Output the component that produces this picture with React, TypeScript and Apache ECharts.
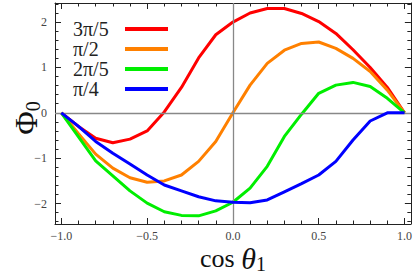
import React, { useEffect, useRef } from "react";
import * as echarts from "echarts";

const xs = [-1.0, -0.9, -0.8, -0.7, -0.6, -0.5, -0.4, -0.3, -0.2, -0.1, 0.0, 0.1, 0.2, 0.3, 0.4, 0.5, 0.6, 0.7, 0.8, 0.9, 1.0];
const seriesNames = ["3π/5", "π/2", "2π/5", "π/4"];
const red = [0, -0.3, -0.56, -0.66, -0.58, -0.4, 0.02, 0.56, 1.21, 1.72, 2.0, 2.2, 2.3, 2.3, 2.19, 2.01, 1.75, 1.39, 1.0, 0.56, 0];
const orange = [0, -0.46, -0.91, -1.22, -1.43, -1.53, -1.5, -1.37, -1.07, -0.63, 0, 0.61, 1.09, 1.38, 1.53, 1.56, 1.42, 1.2, 0.91, 0.5, 0];
const green = [0, -0.53, -1.06, -1.39, -1.72, -1.99, -2.18, -2.26, -2.27, -2.16, -1.97, -1.66, -1.18, -0.52, -0.03, 0.43, 0.61, 0.67, 0.58, 0.32, 0];
const blue = [0, -0.3, -0.63, -0.89, -1.13, -1.37, -1.59, -1.72, -1.85, -1.94, -1.97, -1.98, -1.92, -1.74, -1.56, -1.37, -1.07, -0.6, -0.18, 0, 0];
const colors = ["#ff0000", "#ff8000", "#00ee00", "#0000ff"];

const xMajor = [-1.0, -0.5, 0.0, 0.5, 1.0];
const xMinor = [-1.0, -0.9, -0.8, -0.7, -0.6, -0.5, -0.4, -0.3, -0.2, -0.1, 0, 0.1, 0.2, 0.3, 0.4, 0.5, 0.6, 0.7, 0.8, 0.9, 1.0];
const yMajor = [-2, -1, 0, 1, 2];
const yMinor = [-2.4, -2.2, -2.0, -1.8, -1.6, -1.4, -1.2, -1.0, -0.8, -0.6, -0.4, -0.2, 0, 0.2, 0.4, 0.6, 0.8, 1.0, 1.2, 1.4, 1.6, 1.8, 2.0, 2.2, 2.4];

const X_MIN = -1.037;
const X_MAX = 1.037;
const Y_MIN = -2.45;
const Y_MAX = 2.42;

const SERIF = "Liberation Serif";
const frameColor = "#222";

const minus = (s: string) => s.replace("-", "\u2212");

function xAxisDef(pos: "bottom" | "top", major: boolean, labels: boolean) {
  return {
    type: "value",
    position: pos,
    min: X_MIN,
    max: X_MAX,
    axisLine: { show: major, onZero: false, lineStyle: { color: frameColor, width: 1 } },
    axisTick: {
      show: true,
      inside: true,
      length: major ? 6 : 3.5,
      customValues: major ? xMajor : xMinor,
      lineStyle: { color: frameColor, width: 1 },
    },
    axisLabel: {
      show: labels,
      customValues: xMajor,
      margin: 6,
      fontFamily: SERIF,
      fontSize: 12,
      color: "#444",
      formatter: (v: number) => minus(v.toFixed(1)),
    },
    splitLine: { show: false },
  };
}

function yAxisDef(pos: "left" | "right", major: boolean, labels: boolean) {
  return {
    type: "value",
    position: pos,
    min: Y_MIN,
    max: Y_MAX,
    axisLine: { show: major, onZero: false, lineStyle: { color: frameColor, width: 1 } },
    axisTick: {
      show: true,
      inside: true,
      length: major ? 6 : 3.5,
      customValues: major ? yMajor : yMinor,
      lineStyle: { color: frameColor, width: 1 },
    },
    axisLabel: {
      show: labels,
      customValues: yMajor,
      margin: 8,
      fontFamily: SERIF,
      fontSize: 12,
      color: "#444",
      formatter: (v: number) => minus(String(Math.round(v))),
    },
    splitLine: { show: false },
  };
}

export default function App() {
  const ref = useRef<HTMLDivElement>(null);
  useEffect(() => {
    if (!ref.current) return;
    const chart = echarts.init(ref.current, null, { renderer: "svg" });
    const all = [red, orange, green, blue];
    chart.setOption({
      animation: false,
      backgroundColor: "#ffffff",
      grid: { left: 55, right: 4, top: 3, bottom: 50 },
      xAxis: [
        xAxisDef("bottom", true, true),
        xAxisDef("bottom", false, false),
        xAxisDef("top", true, false),
        xAxisDef("top", false, false),
      ],
      yAxis: [
        yAxisDef("left", true, true),
        yAxisDef("left", false, false),
        yAxisDef("right", true, false),
        yAxisDef("right", false, false),
      ],
      legend: {
        data: seriesNames,
        orient: "vertical",
        left: 68,
        top: 14,
        align: "right",
        icon: "rect",
        itemWidth: 43,
        itemHeight: 4,
        itemGap: 0,
        formatter: (name: string) => `{t|${name}}`,
        textStyle: {
          fontFamily: SERIF,
          fontSize: 20,
          color: "#222",
          rich: {
            t: {
              fontFamily: SERIF,
              fontSize: 20,
              color: "#222",
              width: 47,
              align: "left",
              lineHeight: 17.7,
            },
          },
        },
      },
      graphic: [
        {
          type: "text",
          x: 26,
          y: 118,
          rotation: Math.PI / 2,
          style: {
            text: "{a|Φ}{b|0}",
            align: "center",
            verticalAlign: "middle",
            rich: {
              a: { fontFamily: SERIF, fontSize: 32, fill: "#111", lineHeight: 28 },
              b: { fontFamily: SERIF, fontSize: 20, fill: "#111", padding: [14, 0, 0, 0], lineHeight: 18 },
            },
          },
        },
        {
          type: "text",
          x: 233,
          y: 258,
          style: {
            text: "{a|cos }{c|θ}{b|1}",
            align: "center",
            verticalAlign: "middle",
            rich: {
              a: { fontFamily: SERIF, fontSize: 26, fill: "#111", lineHeight: 24 },
              c: { fontFamily: SERIF, fontSize: 30, fontStyle: "italic", fill: "#111", lineHeight: 24 },
              b: { fontFamily: SERIF, fontSize: 20, fill: "#111", padding: [12, 0, 0, 0], lineHeight: 16 },
            },
          },
        },
      ],
      series: [
        {
          type: "line",
          name: "zero",
          data: [],
          z: 1,
          silent: true,
          markLine: {
            silent: true,
            symbol: "none",
            label: { show: false },
            lineStyle: { color: "#888", width: 1.3, type: "solid" },
            data: [{ yAxis: 0 }, { xAxis: 0 }],
          },
        },
        ...all.map((arr, i) => ({
          type: "line",
          name: seriesNames[i],
          data: xs.map((x, j) => [x, arr[j]]),
          showSymbol: false,
          symbol: "none",
          z: 2 + i,
          color: colors[i],
          lineStyle: { color: colors[i], width: 3 },
        })),
      ],
    });
    return () => chart.dispose();
  }, []);
  return <div ref={ref} style={{ width: 415, height: 274, position: "absolute", left: 0, top: 0 }} />;
}
